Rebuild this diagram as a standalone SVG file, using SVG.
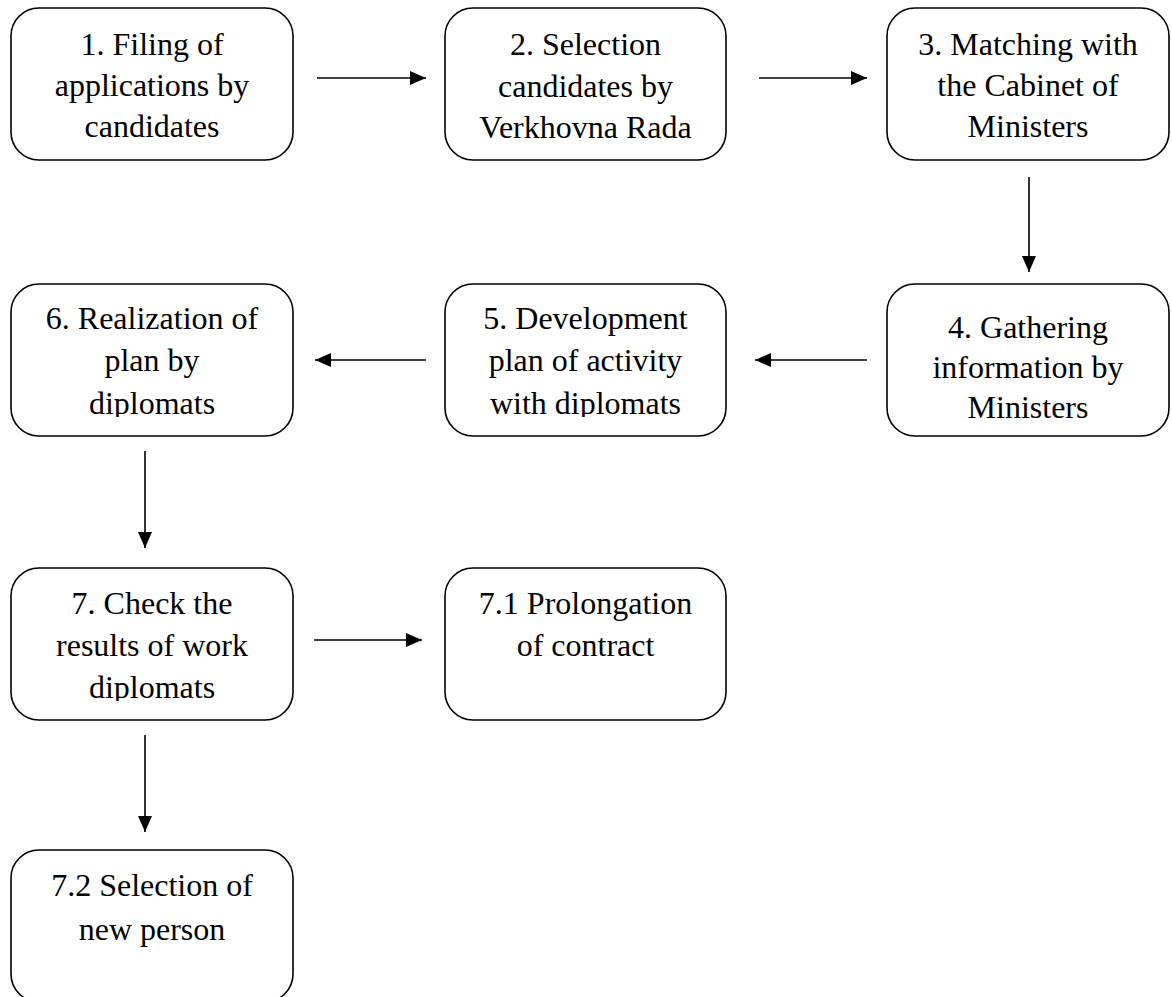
<svg xmlns="http://www.w3.org/2000/svg" width="1172" height="997" viewBox="0 0 1172 997">
<style>
.box{fill:#fff;stroke:#000;stroke-width:1.6}
.t{font-family:"Liberation Serif","Times New Roman",serif;font-size:32px;fill:#000;text-anchor:middle}
.c{stroke:#000;stroke-width:1.6;fill:none;marker-end:url(#ah)}
</style>
<defs>
<marker id="ah" viewBox="0 0 16 14" refX="16" refY="7" markerWidth="16" markerHeight="14" markerUnits="userSpaceOnUse" orient="auto">
<path d="M0,0 L16,7 L0,14 Z" fill="#000"/>
</marker>
<clipPath id="clipRow2"><rect x="0" y="0" width="1172" height="417"/></clipPath>
<clipPath id="clipRow3"><rect x="0" y="0" width="1172" height="701"/></clipPath>
</defs>
<rect width="1172" height="997" fill="#fff"/>
<g id="connectors">
<line class="c" x1="317" y1="78" x2="426" y2="78"/>
<line class="c" x1="759" y1="78" x2="867" y2="78"/>
<line class="c" x1="1029" y1="177" x2="1029" y2="272"/>
<line class="c" x1="867" y1="360" x2="755" y2="360"/>
<line class="c" x1="426" y1="360" x2="315" y2="360"/>
<line class="c" x1="145" y1="451" x2="145" y2="548"/>
<line class="c" x1="314" y1="640" x2="422" y2="640"/>
<line class="c" x1="145" y1="735" x2="145" y2="832"/>
</g>
<g id="n1">
<rect class="box" x="11" y="8" width="282" height="152" rx="28"/>
<text class="t" x="152" y="55">1. Filing of</text>
<text class="t" x="152" y="96">applications by</text>
<text class="t" x="152" y="137">candidates</text>
</g>
<g id="n2">
<rect class="box" x="445" y="8" width="281" height="152" rx="28"/>
<text class="t" x="585.5" y="55">2. Selection</text>
<text class="t" x="585.5" y="97">candidates by</text>
<text class="t" x="585.5" y="138">Verkhovna Rada</text>
</g>
<g id="n3">
<rect class="box" x="887" y="8" width="282" height="152" rx="28"/>
<text class="t" x="1028" y="55">3. Matching with</text>
<text class="t" x="1028" y="96">the Cabinet of</text>
<text class="t" x="1028" y="137">Ministers</text>
</g>
<g id="n4">
<rect class="box" x="887" y="284" width="282" height="152" rx="28"/>
<text class="t" x="1028" y="338">4. Gathering</text>
<text class="t" x="1028" y="378">information by</text>
<text class="t" x="1028" y="418">Ministers</text>
</g>
<g id="n5">
<rect class="box" x="445" y="284" width="281" height="152" rx="28"/>
<text class="t" x="585.5" y="329">5. Development</text>
<text class="t" x="585.5" y="371">plan of activity</text>
<text class="t" x="585.5" y="414" clip-path="url(#clipRow2)">with diplomats</text>
</g>
<g id="n6">
<rect class="box" x="11" y="284" width="282" height="152" rx="28"/>
<text class="t" x="152" y="329">6. Realization of</text>
<text class="t" x="152" y="371">plan by</text>
<text class="t" x="152" y="414" clip-path="url(#clipRow2)">diplomats</text>
</g>
<g id="n7">
<rect class="box" x="11" y="568" width="282" height="152" rx="28"/>
<text class="t" x="152" y="614">7. Check the</text>
<text class="t" x="152" y="656">results of work</text>
<text class="t" x="152" y="698" clip-path="url(#clipRow3)">diplomats</text>
</g>
<g id="n71">
<rect class="box" x="445" y="568" width="281" height="152" rx="28"/>
<text class="t" x="585.5" y="614">7.1 Prolongation</text>
<text class="t" x="585.5" y="656">of contract</text>
</g>
<g id="n72">
<rect class="box" x="11" y="850" width="282" height="152" rx="28"/>
<text class="t" x="152" y="896">7.2 Selection of</text>
<text class="t" x="152" y="940">new person</text>
</g>
</svg>
